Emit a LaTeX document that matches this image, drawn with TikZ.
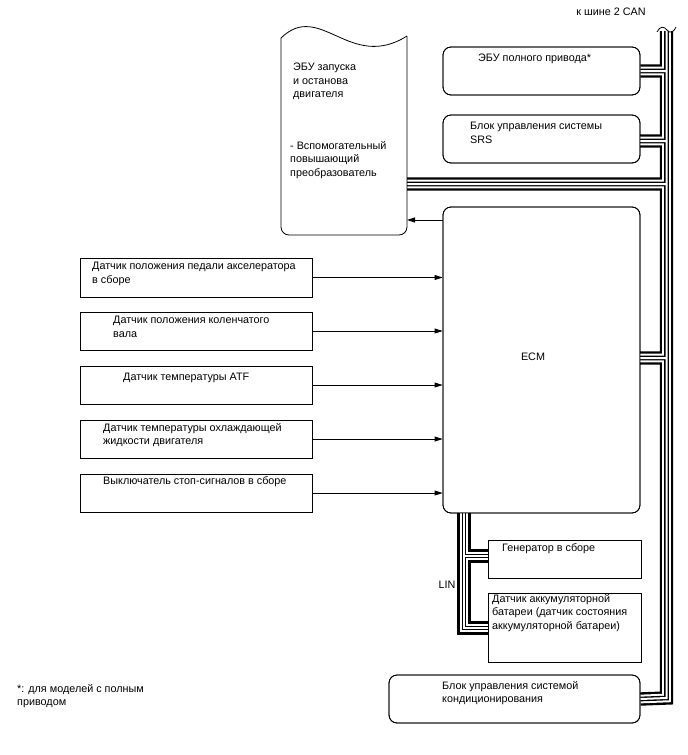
\documentclass[tikz,border=0pt]{standalone}
\usepackage{fontspec}
\setmainfont{Liberation Sans}
\usetikzlibrary{arrows.meta}
\tikzset{
  box/.style={draw, line width=0.8pt, inner sep=0pt, rectangle},
  rbox/.style={box, rounded corners=8pt},
  txt/.style={anchor=north west, inner sep=0pt, align=left, font=\fontsize{10.8}{13.5}\selectfont},
  sig/.style={line width=0.8pt, -{Triangle[length=8pt,width=5pt]}},
  busA/.style={line width=13.4pt, line join=miter, line cap=butt},
  busB/.style={white, line width=8.7pt, line join=miter, line cap=butt},
  busC/.style={line width=4.7pt, line join=miter, line cap=butt},
  busD/.style={white, line width=2pt, line join=miter, line cap=butt},
}
\newcommand{\canroute}{(busTop) -- (busBot) -- (ac.east)
  (awd.east) -- (awd.east -| busTop)
  (srsBr) -- (srsBr -| busTop)
  (ecuBr) -- (ecuBr -| busTop)
  (ecmBr) -- (ecmBr -| busTop)}
\newcommand{\linroute}{(linTop) -- (linBot) -- (linBot -| bat.west)
  (linMid) -- (linMid -| gen.west)}
\begin{document}
\begin{tikzpicture}[x=1pt, y=-1pt]
\fill[white] (0,0) rectangle (688,755);
\useasboundingbox (0,0) rectangle (688,755);

% --- nodes (boxes) ---
\node[rbox, minimum width=197pt, minimum height=48pt] (awd) at (541.5,71) {};
\node[rbox, minimum width=197pt, minimum height=48pt] (srs) at (541.5,139) {};
\node[rbox, minimum width=197pt, minimum height=306pt] (ecm) at (541.5,360) {};
\node[rbox, minimum width=251pt, minimum height=48pt] (ac) at (514.5,699) {};
\node[box, minimum width=232pt, minimum height=39pt] (s1) at (196,277.5) {};
\node[box, minimum width=232pt, minimum height=38pt] (s2) at (196,331) {};
\node[box, minimum width=232pt, minimum height=38pt] (s3) at (196,385) {};
\node[box, minimum width=232pt, minimum height=38pt] (s4) at (196,439) {};
\node[box, minimum width=232pt, minimum height=38pt] (s5) at (196,493) {};
\node[box, minimum width=153pt, minimum height=38pt] (gen) at (564.5,559) {};
\node[box, minimum width=153pt, minimum height=69pt] (bat) at (564.5,627.5) {};

% --- coordinates ---
\coordinate (busTop) at (666.5,31);
\coordinate (busBot) at (666.5,698);
\coordinate (srsBr) at (640,141);
\coordinate (ecuBr) at (407,184);
\coordinate (ecmBr) at (640,358);
\coordinate (ecuR) at (407,220);
\coordinate (ecmOut) at (443,220);
\coordinate (linTop) at (464,513);
\coordinate (linBot) at (464,628);
\coordinate (linMid) at (464,556);

% --- CAN bus (layered) ---
\draw[busA] \canroute;
\draw[busB] \canroute;
\draw[busC] \canroute;
\draw[busD] \canroute;
% --- LIN bus (layered) ---
\draw[busA] \linroute;
\draw[busB] \linroute;
\draw[busC] \linroute;
\draw[busD] \linroute;

% redraw box borders over bus ends
\node[rbox, minimum width=197pt, minimum height=48pt] at (541.5,71) {};
\node[rbox, minimum width=197pt, minimum height=48pt] at (541.5,139) {};
\node[rbox, minimum width=197pt, minimum height=306pt] at (541.5,360) {};
\node[rbox, minimum width=251pt, minimum height=48pt] at (514.5,699) {};
\node[box, minimum width=153pt, minimum height=38pt] at (564.5,559) {};
\node[box, minimum width=153pt, minimum height=69pt] at (564.5,627.5) {};

% break mark at top of bus
\draw[line width=0.8pt] (657,32) .. controls (660,26) and (664,26) .. (667,30) .. controls (670,34) and (674,32) .. (676,27);

% --- engine stop/start ECU (document shape) ---
\draw[line width=0.8pt] (281,38) .. controls (320,0) and (350,72) .. (407,36);
\draw[line width=0.8pt, rounded corners=8pt] (407,36) -- (407,235) -- (281,235) -- (281,38);

% --- signal arrows ---
\draw[sig] (s1.east) -- (s1.east -| ecm.west);
\draw[sig] (s2.east) -- (s2.east -| ecm.west);
\draw[sig] (s3.east) -- (s3.east -| ecm.west);
\draw[sig] (s4.east) -- (s4.east -| ecm.west);
\draw[sig] (s5.east) -- (s5.east -| ecm.west);
\draw[sig] (ecmOut) -- (ecuR);

% --- texts ---
\node[txt, anchor=center] (canlbl) at (611,12) {к шине 2 CAN};
\node[txt] (ecut1) at (293,63) {ЭБУ запуска\\и останова\\двигателя};
\node[txt] (ecut2) at (290,141) {- Вспомогательный\\повышающий\\преобразователь};
\node[txt] (awdt) at (478,54) {ЭБУ полного привода*};
\node[txt] (srst) at (470,122) {Блок управления системы\\SRS};
\node[txt] (s1t) at (92,262) {Датчик положения педали акселератора\\в сборе};
\node[txt] (s2t) at (113,316) {Датчик положения коленчатого\\вала};
\node[txt] (s3t) at (123,373) {Датчик температуры ATF};
\node[txt] (s4t) at (103,423) {Датчик температуры охлаждающей\\жидкости двигателя};
\node[txt] (s5t) at (103,476) {Выключатель стоп-сигналов в сборе};
\node[txt, anchor=center] (ecmt) at (533,357) {ECM};
\node[txt] (gent) at (502,543) {Генератор в сборе};
\node[txt] (batt) at (492,594) {Датчик аккумуляторной\\батареи (датчик состояния\\аккумуляторной батареи)};
\node[txt] (act) at (442,681) {Блок управления системой\\кондиционирования};
\node[txt, anchor=center] (lint) at (447,585) {LIN};
\node[txt] (foot) at (17,684) {*: для моделей с полным\\приводом};
\end{tikzpicture}
\end{document}
